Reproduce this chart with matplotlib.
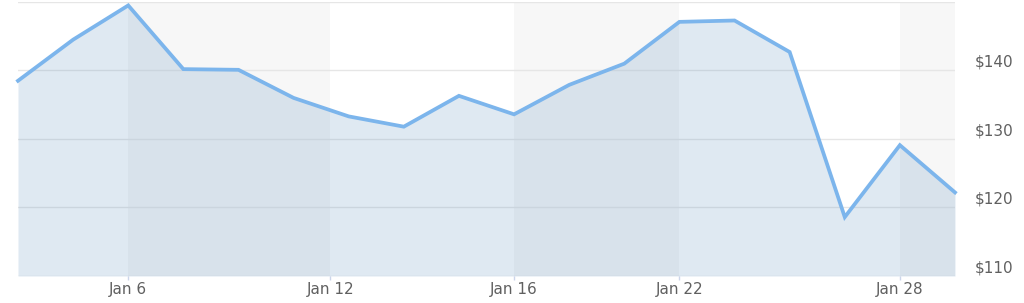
import numpy as np
import matplotlib
matplotlib.use("Agg")
import matplotlib.pyplot as plt
import matplotlib.transforms as mtransforms

# trading days in January (ordinal axis, gaps are skipped)
days = [2, 4, 6, 7, 8, 10, 13, 14, 15, 16, 18, 20, 22, 23, 25, 26, 28, 29]
prices = [138.5, 144.5, 149.5, 140.2, 140.1, 136.0, 133.3, 131.8, 136.3,
          133.6, 137.9, 141.0, 147.1, 147.3, 142.7, 118.6, 129.1, 122.2]
tick_days = [6, 12, 16, 22, 28]
tick_labels = ["Jan %d" % d for d in tick_days]
y_ticks = [110, 120, 130, 140]
y_labels = ["$%d" % v for v in y_ticks]

plt.rcParams['font.family'] = ['DejaVu Sans']

fig = plt.figure(figsize=(10.24, 3.03), dpi=100)
ax = fig.add_axes([18 / 1024, 27 / 303, (955 - 18) / 1024, (301 - 27) / 303])

x = np.arange(len(days))
# date ticks placed on the ordinal scale
tick_pos = np.interp(tick_days, days, x)

# alternate bands between ticks
for i in range(0, len(tick_pos), 2):
    end = tick_pos[i + 1] if i + 1 < len(tick_pos) else x[-1]
    ax.axvspan(tick_pos[i], end, color='#f7f7f7', lw=0, zorder=0)

for v in [110, 120, 130, 140, 150]:
    ax.axhline(v, color='#e6e6e6', lw=1, zorder=1)

ax.fill_between(x, prices, 110, color='#5f91be', alpha=0.2, lw=0, zorder=2)
ax.plot(x, prices, color='#7cb5ec', lw=2.7, solid_joinstyle='miter', zorder=3,
        clip_on=False)

ax.set_xlim(x[0], x[-1])
ax.set_ylim(110, 150)

ax.set_xticks(tick_pos)
ax.set_xticklabels(tick_labels)
ax.tick_params(axis='x', length=3, width=1, color='#ccd6eb', pad=1.5,
               labelsize=11, labelcolor='#606060')

ax.yaxis.tick_right()
ax.set_yticks(y_ticks)
ax.set_yticklabels(y_labels)
ax.tick_params(axis='y', length=0, pad=14, labelsize=11, labelcolor='#606060')
# labels sit a bit above their grid line
offset = mtransforms.ScaledTranslation(0, 9.5 / 100, fig.dpi_scale_trans)
for lab in ax.get_yticklabels():
    lab.set_transform(lab.get_transform() + offset)

for s in ax.spines.values():
    s.set_visible(False)

fig.savefig("out.png", dpi=100)
